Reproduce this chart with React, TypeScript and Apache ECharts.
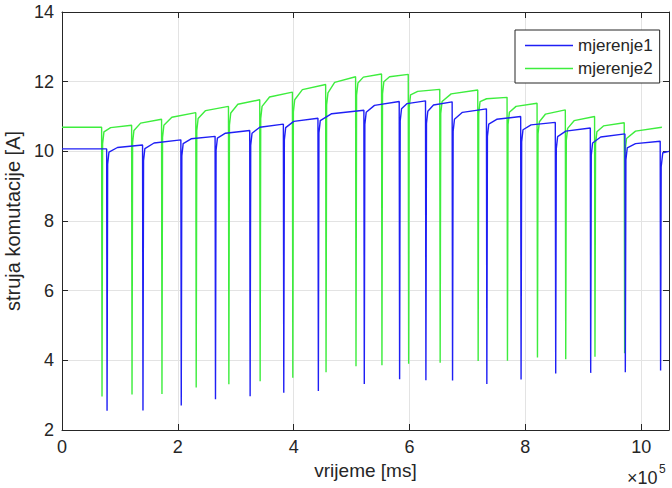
import React, { useEffect, useRef } from "react";
import * as echarts from "echarts";

// time axis in ms
const X_MAX = 1048000;
const xTicksInterval = 200000;

// mjerenje1 (blue)
const blueInit = 10.07;
const blueSpikeTimes = [77100, 139100, 205200, 264300, 324100, 382200, 441900, 521200, 582200, 627600, 673600, 732800, 791900, 851700, 912100, 971900, 1032800];
const blueMins = [2.55, 2.56, 2.7, 2.88, 2.97, 3.07, 3.12, 3.32, 3.46, 3.43, 3.42, 3.32, 3.45, 3.62, 3.64, 3.66, 3.71];
const blueStarts = [9.98, 10.08, 10.22, 10.38, 10.52, 10.68, 10.88, 11.12, 11.22, 11.15, 10.92, 10.78, 10.62, 10.42, 10.24, 10.1, 9.9];
const blueMids = [10.11, 10.24, 10.36, 10.52, 10.69, 10.86, 11.08, 11.32, 11.37, 11.33, 11.12, 10.92, 10.76, 10.58, 10.41, 10.22, 9.96];
const bluePeaks = [10.18, 10.33, 10.43, 10.6, 10.78, 10.95, 11.18, 11.43, 11.45, 11.42, 11.22, 11.0, 10.83, 10.67, 10.5, 10.29, 10.0];
const blueEnd = 1048000;

// mjerenje2 (green)
const greenInit = 10.69;
const greenSpikeTimes = [68400, 120200, 171900, 231000, 287400, 341400, 397800, 455200, 506900, 551700, 597800, 652200, 717800, 768400, 820200, 869000, 919500, 970700];
const greenMins = [2.96, 3.02, 3.03, 3.22, 3.31, 3.4, 3.5, 3.66, 3.83, 3.86, 3.9, 3.93, 3.98, 3.99, 4.08, 4.03, 4.1, 4.2];
const greenStarts = [10.56, 10.6, 10.75, 10.94, 11.1, 11.29, 11.48, 11.68, 11.96, 12.0, 11.62, 11.43, 11.43, 11.12, 10.85, 10.66, 10.56, 10.37];
const greenMids = [10.68, 10.81, 10.98, 11.17, 11.35, 11.56, 11.77, 11.98, 12.13, 12.14, 11.72, 11.65, 11.51, 11.29, 11.07, 10.88, 10.73, 10.58];
const greenPeaks = [10.75, 10.92, 11.11, 11.29, 11.48, 11.7, 11.92, 12.14, 12.22, 12.21, 11.78, 11.76, 11.55, 11.38, 11.19, 11.0, 10.82, 10.69];
const greenEnd = 1035700;

const yTicks = [2, 4, 6, 8, 10, 12, 14];

function buildSeries(
  init: number,
  times: number[],
  mins: number[],
  starts: number[],
  mids: number[],
  peaks: number[],
  endT: number
): number[][] {
  const pts: number[][] = [[0, init]];
  for (let i = 0; i < times.length; i++) {
    const t = times[i];
    const next = i + 1 < times.length ? times[i + 1] : endT;
    if (i === 0) pts.push([t, init]);
    pts.push([t + 700, mins[i]]);
    pts.push([t + 1700, starts[i] - 0.35]);
    pts.push([t + 4000, starts[i]]);
    pts.push([t + 0.3 * (next - t), mids[i]]);
    pts.push([next, peaks[i]]);
  }
  return pts;
}

const AX = "#262626";
const GRIDC = "#e3e3e3";
const FONT = "'Liberation Sans', Arial, Helvetica, sans-serif";
const BLUE = "#1f1ff5";
const GREEN = "#3ded3d";

export default function App() {
  const ref = useRef<HTMLDivElement>(null);
  useEffect(() => {
    document.body.style.margin = "0";
    if (!ref.current) return;
    const chart = echarts.init(ref.current, undefined, { renderer: "svg" });
    const blue = buildSeries(blueInit, blueSpikeTimes, blueMins, blueStarts, blueMids, bluePeaks, blueEnd);
    const green = buildSeries(greenInit, greenSpikeTimes, greenMins, greenStarts, greenMids, greenPeaks, greenEnd);
    const common = {
      min: 0,
      max: X_MAX,
      interval: xTicksInterval,
    };
    chart.setOption({
      animation: false,
      backgroundColor: "#ffffff",
      textStyle: { fontFamily: FONT },
      grid: { left: 62, right: 3, top: 12, bottom: 58, containLabel: false, outerBoundsMode: "none" },
      legend: {
        orient: "vertical",
        left: 515,
        top: 30,
        padding: [7, 7, 6, 10],
        itemGap: 6,
        itemWidth: 48,
        itemHeight: 1.6,
        icon: "rect",
        backgroundColor: "#ffffff",
        borderColor: AX,
        borderWidth: 1,
        borderRadius: 0,
        textStyle: { fontSize: 17, color: AX, fontFamily: FONT, lineHeight: 17 },
        data: [
          { name: "mjerenje1", itemStyle: { color: BLUE } },
          { name: "mjerenje2", itemStyle: { color: GREEN } },
        ],
      },
      xAxis: [
        {
          type: "value",
          ...common,
          position: "bottom",
          name: "vrijeme [ms]",
          nameLocation: "middle",
          nameGap: 30,
          nameTextStyle: { fontSize: 19, color: AX, fontFamily: FONT },
          axisLine: { show: true, onZero: false, lineStyle: { color: AX, width: 1 } },
          axisTick: { show: true, inside: true, length: 6, lineStyle: { color: AX } },
          axisLabel: {
            show: true,
            margin: 8,
            fontSize: 18,
            color: AX,
            fontFamily: FONT,
            showMaxLabel: false,
            formatter: (v: number) => String(Math.round(v / 1e5)),
          },
          splitLine: { show: true, lineStyle: { color: GRIDC, width: 1 } },
        },
        {
          type: "value",
          ...common,
          position: "top",
          axisLine: { show: true, onZero: false, lineStyle: { color: AX, width: 1 } },
          axisTick: { show: true, inside: true, length: 6, lineStyle: { color: AX } },
          axisLabel: { show: false },
          splitLine: { show: false },
        },
      ],
      yAxis: [
        {
          type: "value",
          min: yTicks[0],
          max: yTicks[yTicks.length - 1],
          interval: 2,
          position: "left",
          name: "struja komutacije [A]",
          nameLocation: "middle",
          nameGap: 36,
          nameTextStyle: { fontSize: 20, color: AX, fontFamily: FONT },
          axisLine: { show: true, onZero: false, lineStyle: { color: AX, width: 1 } },
          axisTick: { show: true, inside: true, length: 6, lineStyle: { color: AX } },
          axisLabel: { show: true, margin: 8, fontSize: 18, color: AX, fontFamily: FONT },
          splitLine: { show: true, lineStyle: { color: GRIDC, width: 1 } },
        },
        {
          type: "value",
          min: yTicks[0],
          max: yTicks[yTicks.length - 1],
          interval: 2,
          position: "right",
          axisLine: { show: true, onZero: false, lineStyle: { color: AX, width: 1 } },
          axisTick: { show: true, inside: true, length: 6, lineStyle: { color: AX } },
          axisLabel: { show: false },
          splitLine: { show: false },
        },
      ],
      graphic: [
        {
          type: "text",
          left: 627,
          top: 469,
          style: { text: "×10", fontSize: 18, fill: AX, fontFamily: FONT },
        },
        {
          type: "text",
          left: 659,
          top: 463,
          style: { text: "5", fontSize: 12, fill: AX, fontFamily: FONT },
        },
      ],
      series: [
        {
          name: "mjerenje1",
          type: "line",
          data: blue,
          symbol: "none",
          showSymbol: false,
          clip: true,
          lineStyle: { color: BLUE, width: 1.4 },
          itemStyle: { color: BLUE },
          z: 3,
        },
        {
          name: "mjerenje2",
          type: "line",
          data: green,
          symbol: "none",
          showSymbol: false,
          clip: true,
          lineStyle: { color: GREEN, width: 1.4 },
          itemStyle: { color: GREEN },
          z: 2,
        },
      ],
    });
    return () => chart.dispose();
  }, []);
  return <div ref={ref} style={{ width: 672, height: 488 }} />;
}
